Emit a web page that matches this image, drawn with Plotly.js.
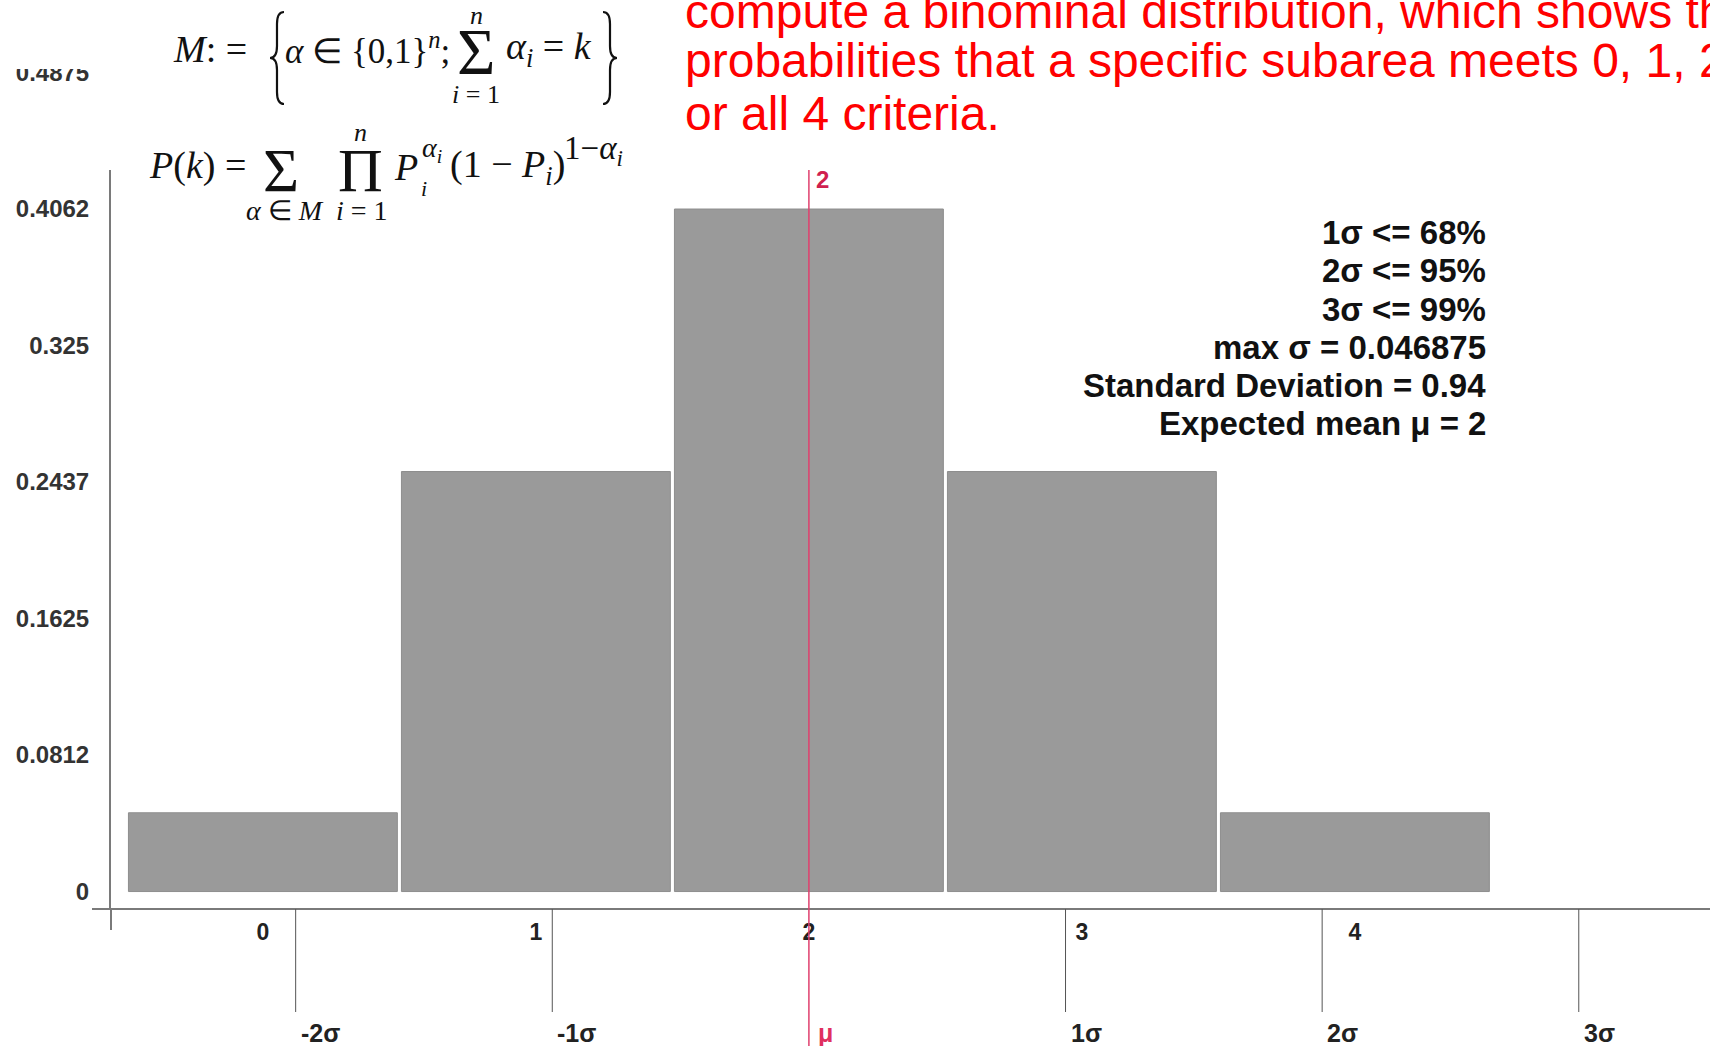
<!DOCTYPE html>
<html>
<head>
<meta charset="utf-8">
<script src="https://cdn.plot.ly/plotly-3.0.1.min.js"></script>
<style>
  html, body { margin: 0; padding: 0; background: #ffffff; }
  #chart { width: 1710px; height: 1046px; }
</style>
</head>
<body>
<div id="chart"></div>
<script>
// ---------------- data ----------------
const categories = [0, 1, 2, 3, 4];
const probabilities = [0.046875, 0.25, 0.40625, 0.25, 0.046875];
const categoryLabels = ['0', '1', '2', '3', '4'];

const yTickValues = [0, 0.08125, 0.1625, 0.24375, 0.325, 0.40625, 0.4875];
const yTickLabels = ['0', '0.0812', '0.1625', '0.2437', '0.325', '0.4062', '0.4875'];

const expectedMean = 2;
const standardDeviation = 0.94;
const sigmaMultiples = [-2, -1, 0, 1, 2, 3];
const sigmaLabels = ['-2σ', '-1σ', 'μ', '1σ', '2σ', '3σ'];

const statsLines = [
  '1σ <= 68%',
  '2σ <= 95%',
  '3σ <= 99%',
  'max σ = 0.046875',
  'Standard Deviation = 0.94',
  'Expected mean μ = 2'
];

const noteLines = [
  'compute a binominal distribution, which shows the',
  'probabilities that a specific subarea meets 0, 1, 2, 3',
  'or all 4 criteria.'
];

// ---------------- layout geometry ----------------
const W = 1710, H = 1046;
const M = { l: 111, r: 0, t: 50, b: 138 };
const PW = W - M.l - M.r, PH = H - M.t - M.b;
const px = x => (x - M.l) / PW;
const py = y => (H - M.b - y) / PH;
const SANS = 'Liberation Sans, Arial, sans-serif';
const SERIF = 'Liberation Serif, Times New Roman, serif';

const annotations = [];
function ann(text, x, y, o) {
  o = o || {};
  annotations.push({
    text: text,
    xref: 'paper', yref: 'paper',
    x: px(x), y: py(y),
    xanchor: o.xanchor || 'left', yanchor: 'middle',
    showarrow: false,
    borderpad: 0,
    align: o.align || 'left',
    font: {
      family: o.family || SANS,
      size: o.size || 20,
      color: o.color || '#111111',
      weight: o.weight || 'normal'
    }
  });
}

// red note text (runs off the page edges like the reference)
const noteY = [11, 61, 113];
noteLines.forEach((t, i) => ann(t, 684, noteY[i], { size: 48, color: '#ff0000' }));

// statistics block, right aligned
const statsY = [232, 270, 309, 347, 385, 423];
statsLines.forEach((t, i) => ann(t, 1487, statsY[i], { size: 33, weight: 'bold', xanchor: 'right', align: 'right', color: '#111111' }));

// ---------- formulas ----------
const f = (t, x, y, size, anchor) => ann(t, x, y, { family: SERIF, size: size, xanchor: anchor || 'left', color: '#111111' });
// M := { alpha in {0,1}^n ; sum alpha_i = k }
f('<i>M</i>: =', 172, 49, 38);
f('<i>α</i> ∈ {0,1}<sup><i>n</i></sup>;', 284, 49, 35);
f('Σ', 476, 51, 66, 'center');
f('<i>n</i>', 476, 16, 26, 'center');
f('<i>i</i> = 1', 476, 94, 26, 'center');
f('<i>α</i><sub><i>i</i></sub> = <i>k</i>', 505, 49, 38);
// P(k) = sum prod P_i^alpha_i (1-P_i)^(1-alpha_i)
f('<i>P</i>(<i>k</i>) =', 148, 166, 38);
f('Σ', 281, 170, 62, 'center');
f('<i>α</i> ∈ <i>M</i>', 285, 210, 28, 'center');
f('Π', 360, 170, 62, 'center');
f('<i>n</i>', 360, 132, 26, 'center');
f('<i>i</i> = 1', 362, 210, 28, 'center');
f('<i>P</i>', 393, 167, 38);
f('<i>i</i>', 420, 188, 22);
f('<i>α</i><sub><i>i</i></sub>', 421, 149, 28);
f('(1 − <i>P</i><sub><i>i</i></sub>)', 449, 167, 38);
f('1−<i>α</i><sub><i>i</i></sub>', 563, 150, 33);

const shapes = [];
// thin curly braces of the set definition
function brace(xl, xr, top, bot, left) {
  const mid = (top + bot) / 2, q = 12;
  const xs = (xl + xr) / 2;
  const tip = left ? xl : xr, end = left ? xr : xl;
  const P = (x, y) => px(x).toFixed(5) + ',' + py(y).toFixed(5);
  const d = 'M' + P(end, top) + ' Q' + P(xs, top) + ' ' + P(xs, top + q) +
            ' L' + P(xs, mid - q) + ' Q' + P(xs, mid) + ' ' + P(tip, mid) +
            ' Q' + P(xs, mid) + ' ' + P(xs, mid + q) +
            ' L' + P(xs, bot - q) + ' Q' + P(xs, bot) + ' ' + P(end, bot);
  shapes.push({ type: 'path', xref: 'paper', yref: 'paper', path: d, line: { color: '#111111', width: 2.2 }, layer: 'above' });
}
brace(270, 284, 12, 104, true);
brace(603, 617, 12, 104, false);

// ---------- sigma markers below the axis ----------
sigmaMultiples.forEach((k, i) => {
  const xv = expectedMean + k * standardDeviation;
  const isMean = k === 0;
  if (!isMean) {
    shapes.push({ type: 'line', xref: 'x', yref: 'paper', x0: xv, x1: xv, y0: py(909), y1: py(1012),
      line: { color: '#555555', width: 1 }, layer: 'above' });
  }
  annotations.push({
    text: sigmaLabels[i], xref: 'x', yref: 'paper', x: xv, y: py(1033),
    xanchor: 'left', yanchor: 'middle', xshift: isMean ? 8 : 4, showarrow: false, borderpad: 0,
    font: { family: SANS, size: 25, weight: 'bold', color: isMean ? '#e0305f' : '#222222' }
  });
});

// mean line (red) and its label
shapes.push({ type: 'line', xref: 'x', yref: 'paper', x0: expectedMean, x1: expectedMean, y0: py(170), y1: py(1046),
  line: { color: '#e0406e', width: 1.5 }, layer: 'above' });
annotations.push({
  text: String(expectedMean), xref: 'x', yref: 'paper', x: expectedMean, y: py(180),
  xanchor: 'left', yanchor: 'middle', xshift: 6, showarrow: false, borderpad: 0,
  font: { family: SANS, size: 24, weight: 'bold', color: '#d0204f' }
});

// axis line extensions past the crossing
shapes.push({ type: 'line', xref: 'paper', yref: 'paper', x0: 0, x1: 0, y0: py(908), y1: py(930),
  line: { color: '#7a7a7a', width: 2 } });
shapes.push({ type: 'line', xref: 'paper', yref: 'paper', x0: px(92), x1: px(111), y0: py(909), y1: py(909),
  line: { color: '#7a7a7a', width: 2 } });
// white areas of the pasted formula pictures
shapes.push({ type: 'rect', xref: 'paper', yref: 'paper', x0: px(100), x1: px(125), y0: py(0), y1: py(170),
  fillcolor: '#ffffff', line: { width: 0 }, layer: 'above' });
shapes.push({ type: 'rect', xref: 'paper', yref: 'paper', x0: px(0), x1: px(105), y0: py(0), y1: py(69),
  fillcolor: '#ffffff', line: { width: 0 }, layer: 'above' });

const trace = {
  type: 'bar',
  x: categories,
  y: probabilities,
  width: 0.985,
  marker: { color: '#9a9a9a', line: { color: '#8e8e8e', width: 1 } },
  hoverinfo: 'x+y'
};

const layout = {
  width: W, height: H,
  margin: M,
  paper_bgcolor: '#ffffff',
  plot_bgcolor: '#ffffff',
  showlegend: false,
  bargap: 0,
  xaxis: {
    range: [-0.5564, 5.3007],
    tickmode: 'array', tickvals: categories, ticktext: categoryLabels,
    showgrid: false, zeroline: false,
    showline: true, linecolor: '#7a7a7a', linewidth: 2,
    ticks: '', ticklabelstandoff: 2,
    tickfont: { family: SANS, size: 23, weight: 'bold', color: '#222222' }
  },
  yaxis: {
    range: [-0.0098, 0.5009],
    tickmode: 'array', tickvals: yTickValues, ticktext: yTickLabels,
    showgrid: false, zeroline: false,
    showline: true, linecolor: '#7a7a7a', linewidth: 2,
    ticks: '', ticklabelstandoff: 15,
    tickfont: { family: SANS, size: 24, weight: 'bold', color: '#333333' }
  },
  shapes: shapes,
  annotations: annotations
};

Plotly.newPlot('chart', [trace], layout, { displayModeBar: false, staticPlot: true });
</script>
</body>
</html>
